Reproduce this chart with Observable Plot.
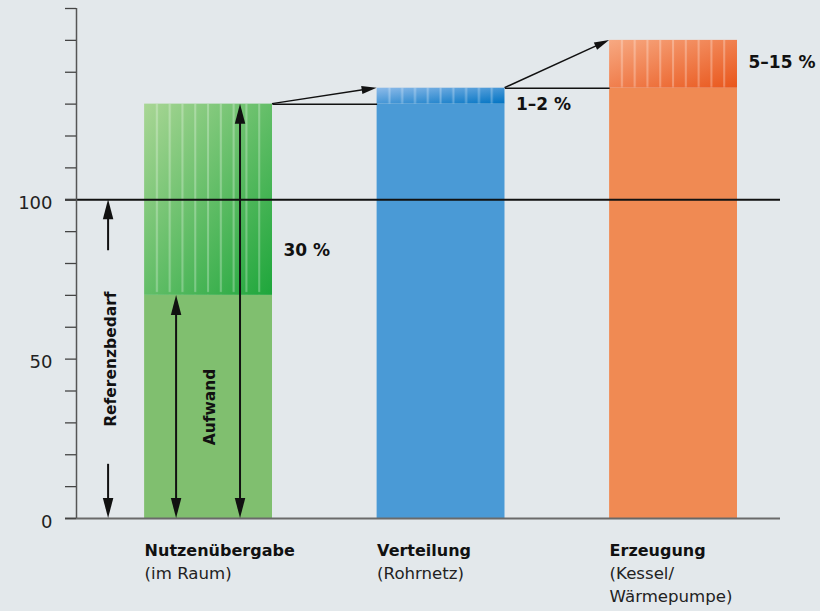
<!DOCTYPE html>
<html>
<head>
<meta charset="utf-8">
<script src="https://cdn.jsdelivr.net/npm/d3@7"></script>
<script src="https://cdn.jsdelivr.net/npm/@observablehq/plot@0.6"></script>
<style>
  html, body { margin: 0; padding: 0; background: #e3e8eb; }
  #chart { width: 820px; height: 611px; overflow: hidden; }
</style>
</head>
<body>
<div id="chart"></div>
<script>
// ---- data ----
const categories = ["Nutzenübergabe", "Verteilung", "Erzeugung"];
const subLabels = ["(im Raum)", "(Rohrnetz)", "(Kessel/\nWärmepumpe)"];
const baseValues = [70, 130, 135];
const totalValues = [130, 135, 150];
const lossLabels = ["30 %", "1–2 %", "5–15 %"];
const lossLabelAt = [84, 130, 143];
const referenceValue = 100;
const referenceLabel = "Referenzbedarf";
const effortLabel = "Aufwand";
const referenceArrowEnds = [17, 84];
const yTicks = d3.range(0, 161, 10);
const yTickLabels = [0, 50, 100];

// ---- layout / style ----
const hw = 0.275;             // half bar width (in category units)
const xDomain = [-0.568, 2.46];
const refX = -0.43;
const ink = "#111";
const palette = {
  solid: ["#80bf6f", "#4a9ad6", "#f08a53"],
  gradFrom: ["#a9d695", "#8ebbe9", "#f7a982"],
  gradTo: ["#1ea63b", "#0073c3", "#e9561b"]
};

const rows = categories.map((name, i) => ({
  i, name, sub: subLabels[i], base: baseValues[i], total: totalValues[i],
  label: lossLabels[i], labelAt: lossLabelAt[i]
}));

// arrows (data units)
const arrows = [
  ...d3.range(categories.length - 1).map(i => ({
    x1: i + hw, y1: totalValues[i], x2: i + 1 - hw, y2: totalValues[i + 1],
    head: "end", len: 15, wid: 8, sw: 1.5
  })),
  {x1: -hw / 2, y1: 0, x2: -hw / 2, y2: baseValues[0], head: "both", len: 20, wid: 10.5, sw: 2},
  {x1: hw / 2, y1: 0, x2: hw / 2, y2: totalValues[0], head: "both", len: 20, wid: 10.5, sw: 2},
  {x1: refX, y1: referenceArrowEnds[1], x2: refX, y2: referenceValue, head: "end", len: 20, wid: 10.5, sw: 2},
  {x1: refX, y1: referenceArrowEnds[0], x2: refX, y2: 0, head: "end", len: 20, wid: 10.5, sw: 2}
];
const connectors = d3.range(categories.length - 1).map(i => ({
  x1: i + hw, x2: i + 1 - hw, y: totalValues[i]
}));

function defsMark() {
  return () => {
    const g = d3.create("svg:g");
    const defs = g.append("defs");
    rows.forEach((r, i) => {
      const lg = defs.append("linearGradient").attr("id", `grad${i}`)
        .attr("x1", 0).attr("y1", 0).attr("x2", 1).attr("y2", 1);
      lg.append("stop").attr("offset", 0).attr("stop-color", palette.gradFrom[i]);
      lg.append("stop").attr("offset", 1).attr("stop-color", palette.gradTo[i]);
    });
    const p = defs.append("pattern").attr("id", "stripes")
      .attr("patternUnits", "objectBoundingBox")
      .attr("patternContentUnits", "objectBoundingBox")
      .attr("x", 0).attr("y", 0).attr("width", 1).attr("height", 1);
    for (let k = 1; k < 10; k++) {
      p.append("rect").attr("x", k / 10 - 0.008).attr("y", 0)
        .attr("width", 0.016).attr("height", 0.985)
        .attr("fill", "white").attr("fill-opacity", 0.28);
    }
    return g.node();
  };
}

function arrowMark(list) {
  return (index, scales) => {
    const g = d3.create("svg:g").attr("fill", ink).attr("stroke", ink);
    for (const a of list) {
      const x1 = scales.x(a.x1), y1 = scales.y(a.y1), x2 = scales.x(a.x2), y2 = scales.y(a.y2);
      const dx = x2 - x1, dy = y2 - y1, L = Math.hypot(dx, dy);
      const ux = dx / L, uy = dy / L;
      let sx = x1, sy = y1, ex = x2, ey = y2;
      const head = (tx, ty, vx, vy) => {
        const bx = tx - vx * a.len, by = ty - vy * a.len;
        const px = -vy * a.wid / 2, py = vx * a.wid / 2;
        g.append("path").attr("stroke", "none")
          .attr("d", `M${tx},${ty}L${bx + px},${by + py}L${bx - px},${by - py}Z`);
      };
      if (a.head === "end" || a.head === "both") {
        head(x2, y2, ux, uy); ex -= ux * a.len * 0.6; ey -= uy * a.len * 0.6;
      }
      if (a.head === "both") {
        head(x1, y1, -ux, -uy); sx += ux * a.len * 0.6; sy += uy * a.len * 0.6;
      }
      g.append("line").attr("x1", sx).attr("y1", sy).attr("x2", ex).attr("y2", ey)
        .attr("stroke-width", a.sw);
    }
    return g.node();
  };
}

const chart = Plot.plot({
  width: 820,
  height: 611,
  marginLeft: 76,
  marginRight: 40,
  marginTop: 8,
  marginBottom: 93,
  x: {domain: xDomain, axis: null},
  y: {domain: [0, 160], label: null},
  color: {type: "identity"},
  style: {
    background: "#e3e8eb",
    fontFamily: "'DejaVu Sans', sans-serif",
    color: "#1a1a1a",
    overflow: "visible"
  },
  marks: [
    defsMark(),
    // solid part
    Plot.rectY(rows, {x1: d => d.i - hw, x2: d => d.i + hw, y1: 0, y2: "base",
      fill: d => palette.solid[d.i]}),
    // loss part (gradient)
    Plot.rectY(rows, {x1: d => d.i - hw, x2: d => d.i + hw, y1: "base", y2: "total",
      fill: d => `url(#grad${d.i})`}),
    // stripes overlay
    Plot.rectY(rows, {x1: d => d.i - hw, x2: d => d.i + hw, y1: "base", y2: "total",
      fill: "url(#stripes)"}),
    // reference and base lines
    Plot.ruleY([referenceValue], {insetLeft: -11, stroke: ink, strokeWidth: 1.8}),
    Plot.ruleY([0], {insetLeft: -11, stroke: "#6a6a6a", strokeWidth: 2}),
    // y axis
    Plot.ruleX([xDomain[0]], {y1: 0, y2: 160, stroke: "#555", strokeWidth: 1.5}),
    Plot.axisY({ticks: yTicks, tickSize: 11, tickFormat: () => "", stroke: "#444",
      strokeWidth: 1.3, label: null}),
    Plot.axisY({ticks: yTickLabels, tickSize: 0, tickPadding: 24, fontSize: 18,
      dy: 3.5, label: null, fill: "#222"}),
    // connector lines
    Plot.link(connectors, {x1: "x1", x2: "x2", y1: "y", y2: "y", stroke: ink, strokeWidth: 1.5}),
    arrowMark(arrows),
    // loss labels
    Plot.text(rows, {x: d => d.i + hw, y: "labelAt", text: "label", textAnchor: "start",
      dx: 11, fontWeight: "bold", fontSize: 17, fill: ink}),
    // rotated labels
    Plot.text([referenceLabel], {x: refX, y: referenceValue / 2, text: d => d, rotate: -90,
      dx: 2, fontWeight: "bold", fontSize: 15.5, fill: ink}),
    Plot.text([effortLabel], {x: 0, y: baseValues[0] / 2, text: d => d, rotate: -90,
      dx: 1.5, fontWeight: "bold", fontSize: 15.5, fill: ink}),
    // category labels
    Plot.text(rows, {x: d => d.i - hw, y: 0, text: "name", textAnchor: "start",
      lineAnchor: "top", dy: 26.6, fontWeight: "bold", fontSize: 16, fill: ink}),
    Plot.text(rows, {x: d => d.i - hw, y: 0, text: "sub", textAnchor: "start",
      lineAnchor: "top", lineHeight: 1.36, dy: 44.5, fontSize: 16.6, fill: "#222"})
  ]
});

document.getElementById("chart").appendChild(chart);
</script>
</body>
</html>
